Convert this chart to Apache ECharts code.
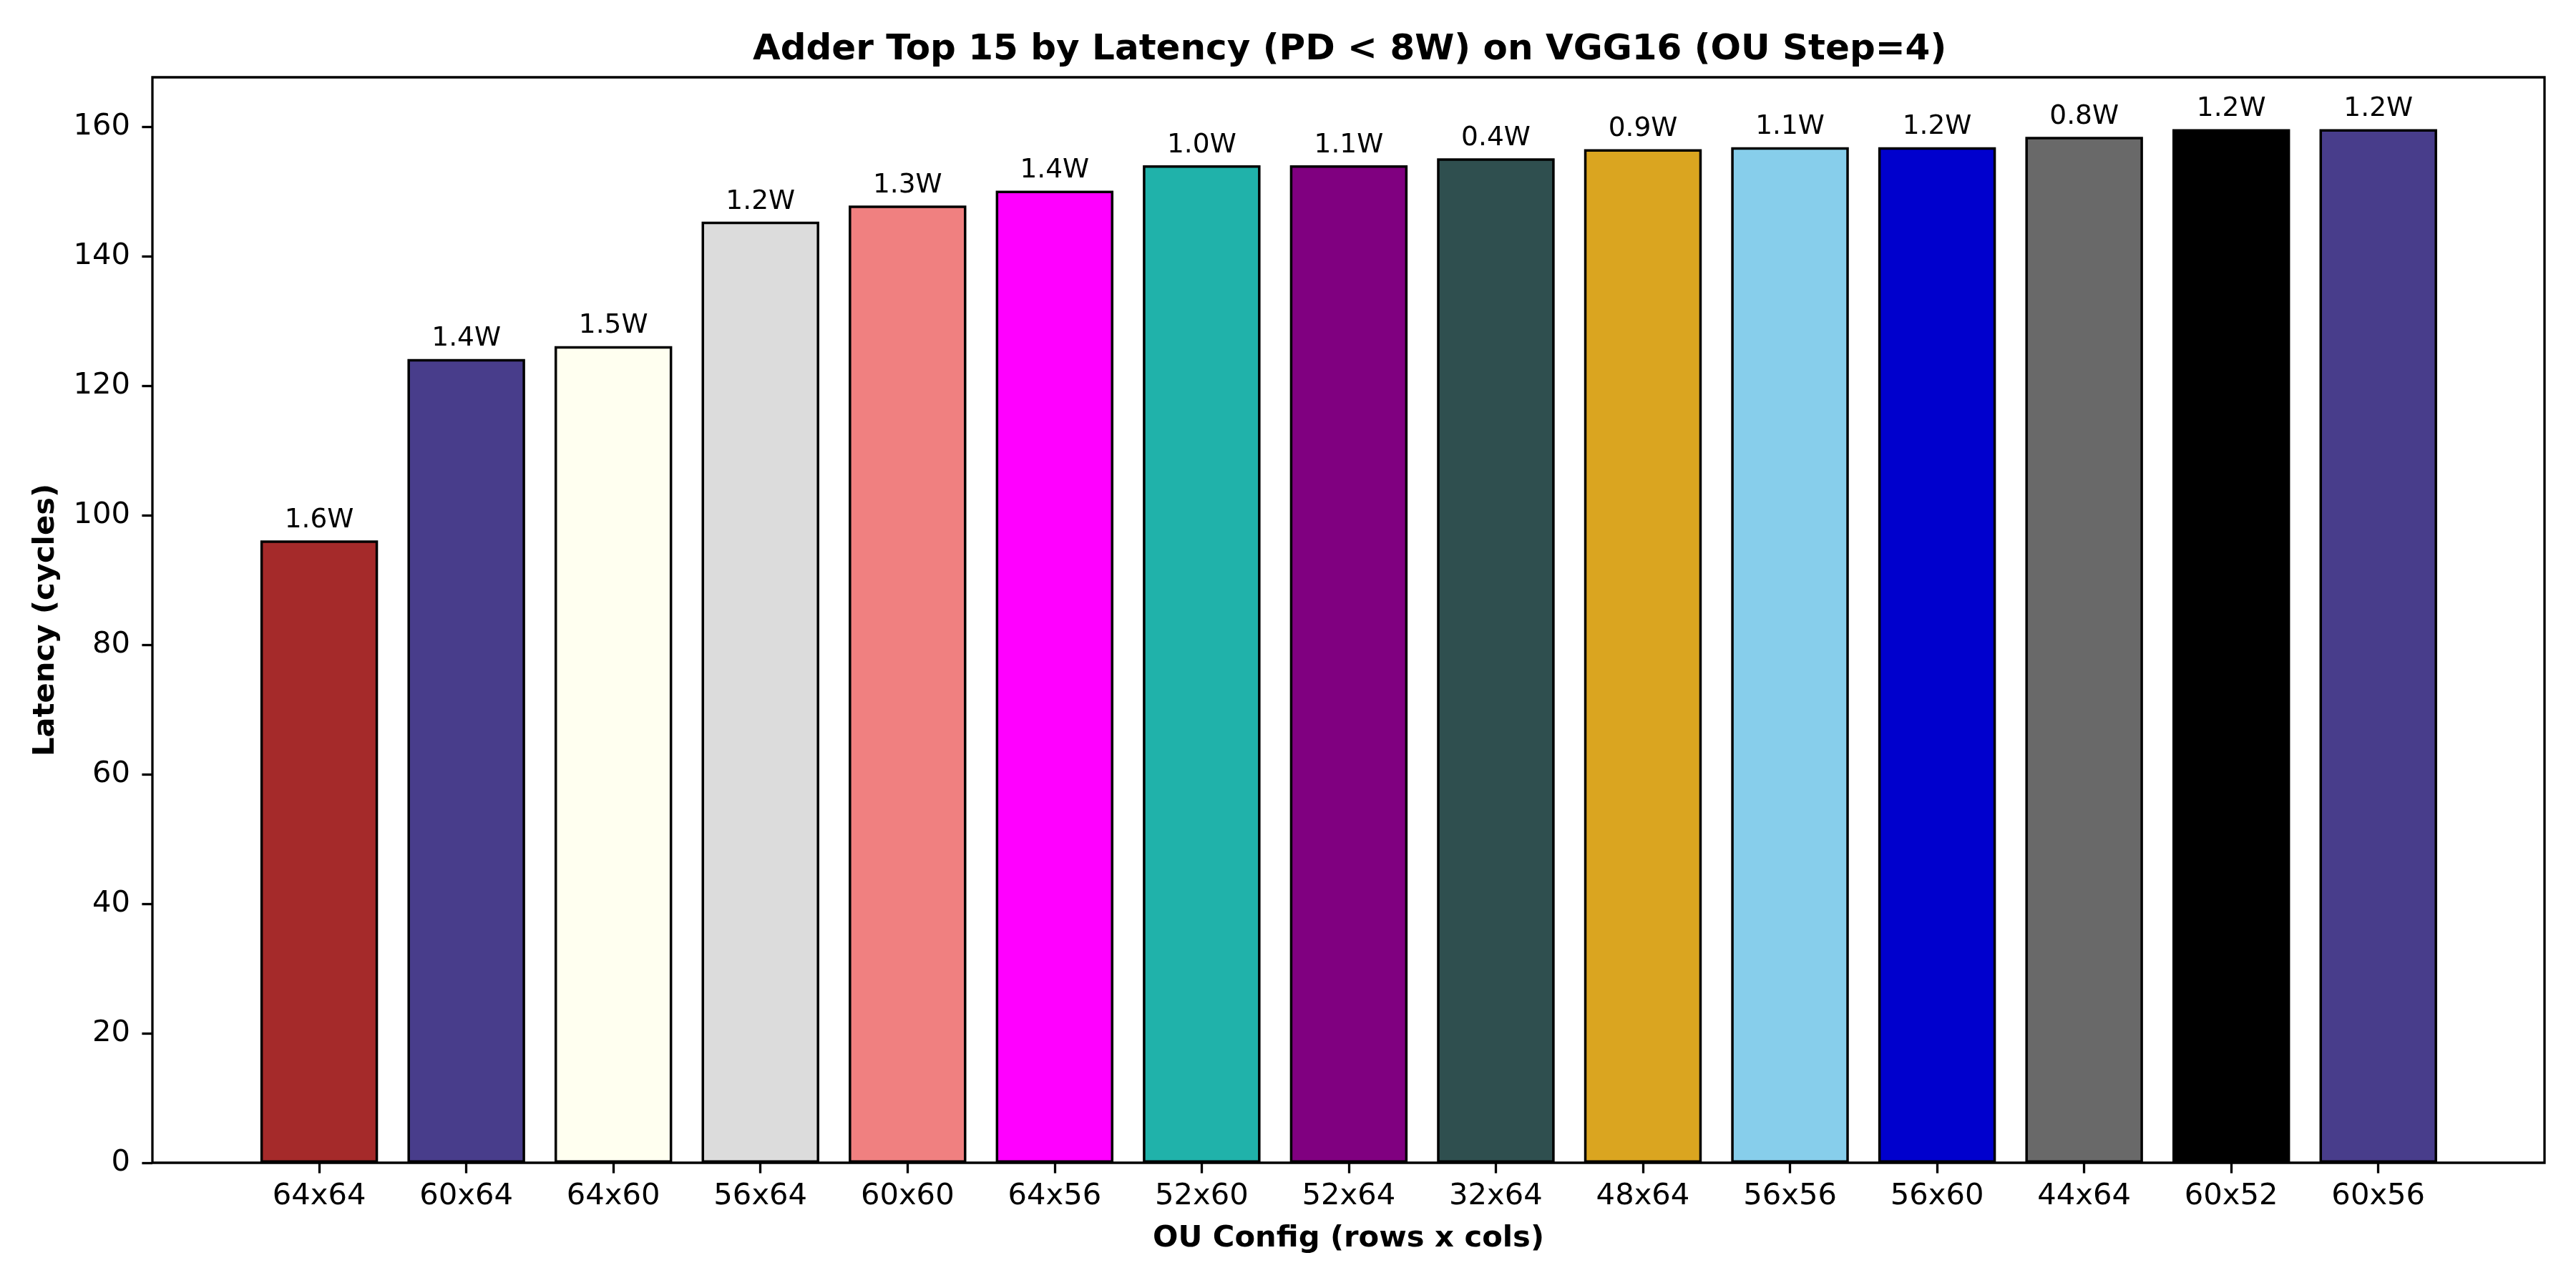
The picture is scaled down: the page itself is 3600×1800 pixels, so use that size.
<!DOCTYPE html>
<html lang="en">
<head>
    <meta charset="UTF-8">
    <title>Adder Top 15 by Latency</title>
    <script src="https://cdn.jsdelivr.net/npm/echarts@6/dist/echarts.min.js"></script>
    <style>
        html, body { margin: 0; padding: 0; background: #fff; }
        #main { width: 3600px; height: 1800px; }
    </style>
</head>
<body>
<div id="main"></div>
<script type="text/javascript">
    // data
    var configs = ['64x64', '60x64', '64x60', '56x64', '60x60', '64x56', '52x60', '52x64',
                   '32x64', '48x64', '56x56', '56x60', '44x64', '60x52', '60x56'];
    var latency = [96.1, 124.1, 126.1, 145.3, 147.8, 150.1, 154.0, 154.0,
                   155.1, 156.5, 156.8, 156.8, 158.4, 159.6, 159.6];
    var power = ['1.6W', '1.4W', '1.5W', '1.2W', '1.3W', '1.4W', '1.0W', '1.1W',
                 '0.4W', '0.9W', '1.1W', '1.2W', '0.8W', '1.2W', '1.2W'];
    var barColors = ['#A52A2A', '#483D8B', '#FFFFF0', '#DCDCDC', '#F08080', '#FF00FF', '#20B2AA', '#800080',
                     '#2F4F4F', '#DAA520', '#87CEEB', '#0000CD', '#696969', '#000000', '#483D8B'];
    var yTicks = [0, 20, 40, 60, 80, 100, 120, 140, 160];
    var xTicks = configs.map(function (c, i) { return i; });

    var font = 'DejaVu Sans';
    var barData = latency.map(function (v, i) {
        return { value: [i, v], itemStyle: { color: barColors[i] } };
    });

    var myChart = echarts.init(document.getElementById('main'));
    var option = {
        backgroundColor: '#fff',
        animation: false,
        title: {
            text: 'Adder Top 15 by Latency (PD < 8W) on VGG16 (OU Step=4)',
            left: 1052,
            top: 45,
            padding: 0,
            textStyle: { fontFamily: font, fontSize: 50, fontWeight: 'bold', color: '#000' }
        },
        grid: {
            left: 213, right: 44, top: 108, bottom: 175,
            show: true, borderColor: '#000', borderWidth: 3.3,
            outerBoundsMode: 'none'
        },
        xAxis: {
            type: 'value',
            min: -1.134,
            max: 15.13,
            name: 'OU Config (rows x cols)',
            nameLocation: 'middle',
            nameGap: 85,
            nameTextStyle: { fontFamily: font, fontSize: 41.7, fontWeight: 'bold', color: '#000' },
            axisLine: { show: false, onZero: false },
            splitLine: { show: false },
            axisTick: { show: true, inside: false, length: 14.6, customValues: xTicks,
                        lineStyle: { color: '#000', width: 3.3 } },
            axisLabel: {
                customValues: xTicks, margin: 26,
                fontFamily: font, fontSize: 41.7, color: '#000',
                formatter: function (v) { return configs[Math.round(v)]; }
            }
        },
        yAxis: {
            type: 'value',
            min: 0,
            max: 167.6,
            name: 'Latency (cycles)',
            nameLocation: 'middle',
            nameGap: 128,
            nameTextStyle: { fontFamily: font, fontSize: 41.7, fontWeight: 'bold', color: '#000' },
            axisLine: { show: false, onZero: false },
            splitLine: { show: false },
            axisTick: { show: true, inside: false, length: 14.6, customValues: yTicks,
                        lineStyle: { color: '#000', width: 3.3 } },
            axisLabel: {
                customValues: yTicks, margin: 31,
                fontFamily: font, fontSize: 41.7, color: '#000'
            }
        },
        series: [{
            type: 'bar',
            data: barData,
            barWidth: '80%',
            itemStyle: { borderColor: '#000', borderWidth: 3.5 },
            label: {
                show: true,
                position: 'top',
                distance: 9,
                fontFamily: font, fontSize: 37.5, color: '#000',
                formatter: function (p) { return power[p.dataIndex]; }
            }
        }]
    };
    myChart.setOption(option);
</script>
</body>
</html>
